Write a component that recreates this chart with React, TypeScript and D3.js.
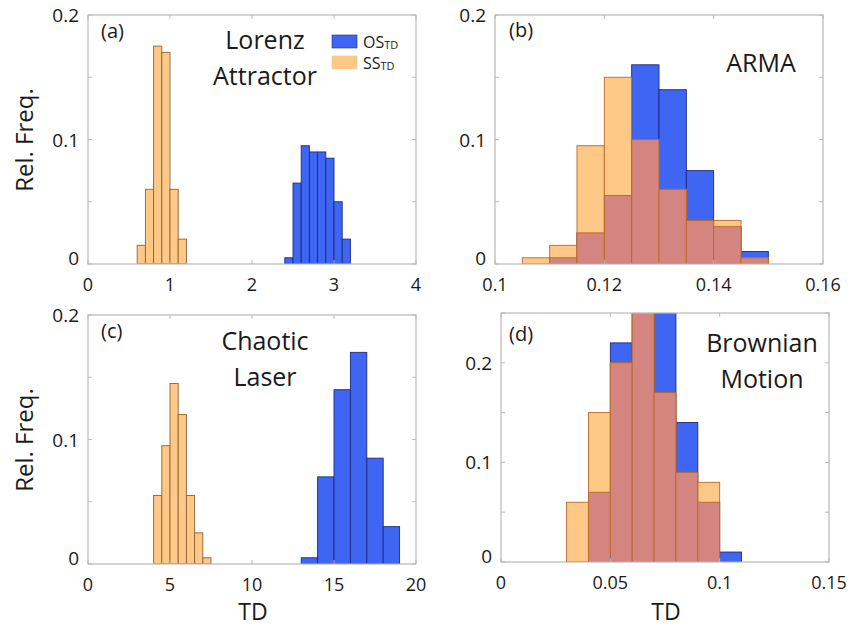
import React from "react";
import * as d3 from "d3";

// ---------- data ----------
// (a) Lorenz attractor
const lorenzSSBins = [0.6, 0.7, 0.8, 0.9, 1.0, 1.1];
const lorenzSS = [0.015, 0.06, 0.175, 0.17, 0.06, 0.02];
const lorenzOSBins = [2.4, 2.5, 2.6, 2.7, 2.8, 2.9, 3.0, 3.1];
const lorenzOS = [0.005, 0.065, 0.095, 0.09, 0.09, 0.085, 0.05, 0.02];
const lorenzWidth = 0.1;

// (b) ARMA
const armaBins = [0.105, 0.11, 0.115, 0.12, 0.125, 0.13, 0.135, 0.14, 0.145];
const armaOS = [0, 0.005, 0.025, 0.055, 0.16, 0.14, 0.075, 0.03, 0.01];
const armaSS = [0.005, 0.015, 0.095, 0.15, 0.1, 0.06, 0.035, 0.035, 0.005];
const armaWidth = 0.005;

// (c) Chaotic laser
const laserSSBins = [4, 4.5, 5, 5.5, 6, 6.5, 7];
const laserSS = [0.055, 0.095, 0.145, 0.12, 0.055, 0.025, 0.005];
const laserSSWidth = 0.5;
const laserOSBins = [13, 14, 15, 16, 17, 18];
const laserOS = [0.005, 0.07, 0.14, 0.17, 0.085, 0.03];
const laserOSWidth = 1;

// (d) Brownian motion
const brownBins = [0.03, 0.04, 0.05, 0.06, 0.07, 0.08, 0.09, 0.1];
const brownOS = [0, 0.07, 0.22, 0.26, 0.26, 0.14, 0.06, 0.01];
const brownSS = [0.06, 0.15, 0.2, 0.27, 0.17, 0.09, 0.08, 0];
const brownWidth = 0.01;

const xTicksA = [0, 1, 2, 3, 4];
const xTicksB = [0.1, 0.12, 0.14, 0.16];
const xTicksC = [0, 5, 10, 15, 20];
const xTicksD = [0, 0.05, 0.1, 0.15];
const yTicks = [0, 0.05, 0.1, 0.15, 0.2];
const yTicksD = [0, 0.05, 0.1, 0.15, 0.2, 0.25];
const yLabelTicks = [0, 0.1, 0.2];

// ---------- styles ----------
const FONT = "'Open Sans', 'Noto Sans', sans-serif";
const BLUE = "#3e66f3";
const BLUE_EDGE = "#1c2b80";
const ORANGE = "#fec886";
const ORANGE_EDGE = "#8f6236";
const PINK = "#d5857f";
const PINK_EDGE = "#b8682a";
const AXIS = "#b8b8b8";
const TEXT = "#1a1a1a";

type Series = { bins: number[]; values: number[]; width: number };

type PanelProps = {
  id: string;
  left: number;
  top: number;
  width: number;
  height: number;
  xDomain: [number, number];
  yDomain: [number, number];
  xTicks: number[];
  yTicks: number[];
  os: Series;
  ss: Series;
  overlapEdge: string;
};

const fmt = (v: number) => String(+v.toFixed(4));

function Panel(p: PanelProps) {
  const x = d3.scaleLinear().domain(p.xDomain).range([p.left, p.left + p.width]);
  const y = d3.scaleLinear().domain(p.yDomain).range([p.top + p.height, p.top]);
  const y0 = y(0);
  const clipId = "clip-" + p.id;

  const ssMap = new Map<string, number>();
  p.ss.bins.forEach((b, i) => ssMap.set(b.toFixed(5) + "_" + p.ss.width, p.ss.values[i]));

  const overlaps: { x0: number; x1: number; v: number }[] = [];
  p.os.bins.forEach((b, i) => {
    const key = b.toFixed(5) + "_" + p.os.width;
    if (ssMap.has(key)) {
      const v = Math.min(ssMap.get(key)!, p.os.values[i]);
      if (v > 0) overlaps.push({ x0: b, x1: b + p.os.width, v });
    }
  });

  const tl = 4;
  return (
    <g>
      <defs>
        <clipPath id={clipId}>
          <rect x={p.left} y={p.top} width={p.width} height={p.height} />
        </clipPath>
      </defs>
      <g clipPath={`url(#${clipId})`}>
        {p.os.bins.map((b, i) =>
          p.os.values[i] > 0 ? (
            <rect
              key={"os" + i}
              x={x(b)}
              y={y(p.os.values[i])}
              width={x(b + p.os.width) - x(b)}
              height={y0 - y(p.os.values[i])}
              fill={BLUE}
              stroke={BLUE_EDGE}
              strokeWidth={0.9}
            />
          ) : null
        )}
        {p.ss.bins.map((b, i) =>
          p.ss.values[i] > 0 ? (
            <rect
              key={"ss" + i}
              x={x(b)}
              y={y(p.ss.values[i])}
              width={x(b + p.ss.width) - x(b)}
              height={y0 - y(p.ss.values[i])}
              fill={ORANGE}
              stroke={p.overlapEdge}
              strokeWidth={0.9}
            />
          ) : null
        )}
        {overlaps.map((o, i) => (
          <rect
            key={"ov" + i}
            x={x(o.x0)}
            y={y(o.v)}
            width={x(o.x1) - x(o.x0)}
            height={y0 - y(o.v)}
            fill={PINK}
            stroke={p.overlapEdge}
            strokeWidth={0.9}
          />
        ))}
      </g>
      <rect
        x={p.left}
        y={p.top}
        width={p.width}
        height={p.height}
        fill="none"
        stroke={AXIS}
        strokeWidth={1.2}
      />
      {p.xTicks.map((t, i) => (
        <g key={"xt" + i}>
          <line x1={x(t)} x2={x(t)} y1={p.top + p.height} y2={p.top + p.height - tl} stroke={AXIS} />
          <line x1={x(t)} x2={x(t)} y1={p.top} y2={p.top + tl} stroke={AXIS} />
          <text
            x={x(t)}
            y={p.top + p.height + 20}
            textAnchor="middle"
            dominantBaseline="central"
            fontSize={18}
            fontFamily={FONT}
            fill={TEXT}
          >
            {fmt(t)}
          </text>
        </g>
      ))}
      {p.yTicks.map((t, i) => (
        <g key={"yt" + i}>
          <line x1={p.left} x2={p.left + tl} y1={y(t)} y2={y(t)} stroke={AXIS} />
          <line x1={p.left + p.width} x2={p.left + p.width - tl} y1={y(t)} y2={y(t)} stroke={AXIS} />
          {yLabelTicks.some((v) => Math.abs(v - t) < 1e-9) ? (
            <text
              x={p.left - 9}
              y={y(t) - (t === 0 ? 6 : 0)}
              textAnchor="end"
              dominantBaseline="central"
              fontSize={19}
              fontFamily={FONT}
              fill={TEXT}
            >
              {fmt(t)}
            </text>
          ) : null}
        </g>
      ))}
    </g>
  );
}

function Title({ x, y, lines, size = 25 }: { x: number; y: number; lines: string[]; size?: number }) {
  return (
    <text x={x} y={y} textAnchor="middle" fontSize={size} fontFamily={FONT} fill={TEXT}>
      {lines.map((l, i) => (
        <tspan key={i} x={x} dy={i === 0 ? 0 : 36}>
          {l}
        </tspan>
      ))}
    </text>
  );
}

export default function App() {
  const W = 851;
  const H = 627;
  const pw = 328;
  const ph = 249;
  return (
    <svg
      width={W}
      height={H}
      viewBox={`0 0 ${W} ${H}`}
      style={{ position: "absolute", left: 0, top: 0, background: "#fff" }}
    >
      <rect x={0} y={0} width={W} height={H} fill="#fff" />
      <Panel
        id="a"
        left={88}
        top={15}
        width={pw}
        height={ph}
        xDomain={[0, 4]}
        yDomain={[0, 0.2]}
        xTicks={xTicksA}
        yTicks={yTicks}
        os={{ bins: lorenzOSBins, values: lorenzOS, width: lorenzWidth }}
        ss={{ bins: lorenzSSBins, values: lorenzSS, width: lorenzWidth }}
        overlapEdge={ORANGE_EDGE}
      />
      <Panel
        id="b"
        left={495}
        top={15}
        width={pw}
        height={ph}
        xDomain={[0.1, 0.16]}
        yDomain={[0, 0.2]}
        xTicks={xTicksB}
        yTicks={yTicks}
        os={{ bins: armaBins, values: armaOS, width: armaWidth }}
        ss={{ bins: armaBins, values: armaSS, width: armaWidth }}
        overlapEdge={PINK_EDGE}
      />
      <Panel
        id="c"
        left={88}
        top={315}
        width={pw}
        height={ph}
        xDomain={[0, 20]}
        yDomain={[0, 0.2]}
        xTicks={xTicksC}
        yTicks={yTicks}
        os={{ bins: laserOSBins, values: laserOS, width: laserOSWidth }}
        ss={{ bins: laserSSBins, values: laserSS, width: laserSSWidth }}
        overlapEdge={ORANGE_EDGE}
      />
      <Panel
        id="d"
        left={501}
        top={313}
        width={pw}
        height={ph}
        xDomain={[0, 0.15]}
        yDomain={[0, 0.25]}
        xTicks={xTicksD}
        yTicks={yTicksD}
        os={{ bins: brownBins, values: brownOS, width: brownWidth }}
        ss={{ bins: brownBins, values: brownSS, width: brownWidth }}
        overlapEdge={PINK_EDGE}
      />

      <text x={101} y={38} fontSize={20} fontFamily={FONT} fill={TEXT}>(a)</text>
      <text x={509} y={37} fontSize={20} fontFamily={FONT} fill={TEXT}>(b)</text>
      <text x={101} y={338} fontSize={20} fontFamily={FONT} fill={TEXT}>(c)</text>
      <text x={509} y={341} fontSize={20} fontFamily={FONT} fill={TEXT}>(d)</text>

      <Title x={265} y={49} lines={["Lorenz", "Attractor"]} />
      <Title x={761} y={72} lines={["ARMA"]} />
      <Title x={265} y={350} lines={["Chaotic", "Laser"]} />
      <Title x={762} y={352} lines={["Brownian", "Motion"]} />

      <rect x={332} y={35} width={25} height={13} fill={BLUE} stroke={BLUE_EDGE} strokeWidth={0.6} />
      <rect x={332} y={56} width={25} height={13} fill={ORANGE} stroke={ORANGE} strokeWidth={0.6} />
      <text x={363} y={48} fontSize={16} fontFamily={FONT} fill={TEXT}>
        OS<tspan fontSize={11} dy={1}>TD</tspan>
      </text>
      <text x={363} y={69} fontSize={16} fontFamily={FONT} fill={TEXT}>
        SS<tspan fontSize={11} dy={1}>TD</tspan>
      </text>

      <text
        transform="translate(33,140) rotate(-90)"
        textAnchor="middle"
        fontSize={24}
        fontFamily={FONT}
        fill={TEXT}
      >
        Rel. Freq.
      </text>
      <text
        transform="translate(33,440) rotate(-90)"
        textAnchor="middle"
        fontSize={24}
        fontFamily={FONT}
        fill={TEXT}
      >
        Rel. Freq.
      </text>
      <text x={253} y={620} textAnchor="middle" fontSize={23} fontFamily={FONT} fill={TEXT}>TD</text>
      <text x={666} y={620} textAnchor="middle" fontSize={23} fontFamily={FONT} fill={TEXT}>TD</text>
    </svg>
  );
}
